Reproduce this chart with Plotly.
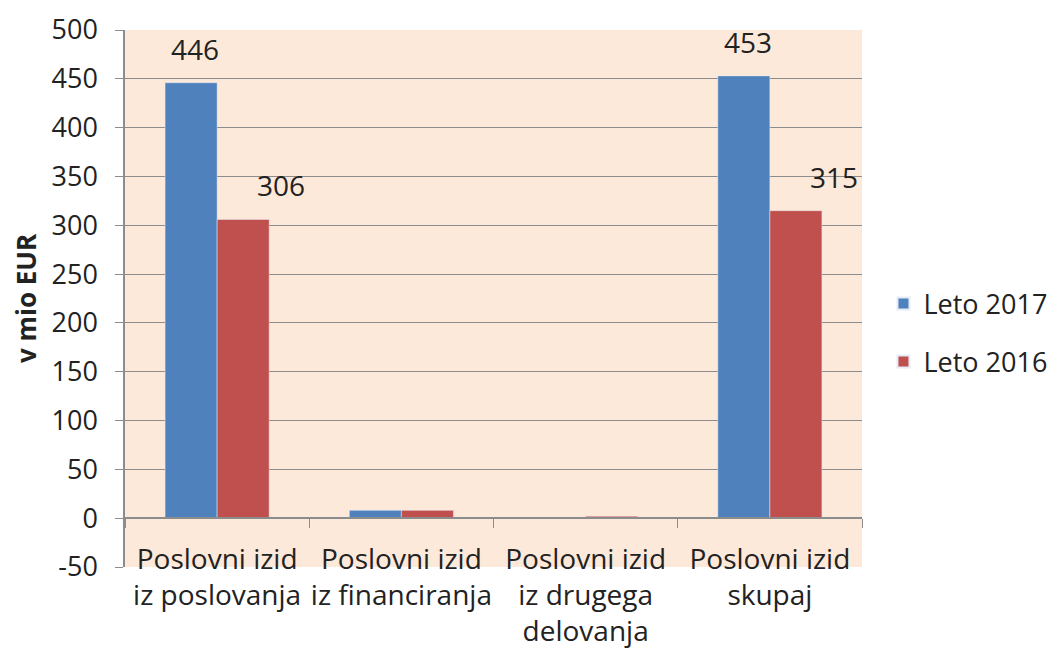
import plotly.graph_objects as go

categories = ["Poslovni izid<br>iz poslovanja", "Poslovni izid<br>iz financiranja",
              "Poslovni izid<br>iz drugega<br>delovanja", "Poslovni izid<br>skupaj"]
leto_2017 = [446, 8, 0.3, 453]
leto_2016 = [306, 8, 2, 315]
y_ticks = [-50, 0, 50, 100, 150, 200, 250, 300, 350, 400, 450, 500]
y_ticktext = [str(v) for v in y_ticks]  # plain hyphen for -50, as in the original

font_family = "Open Sans, Noto Sans, sans-serif"
grid_color = "#8c8c8c"

fig = go.Figure()
fig.add_trace(go.Bar(x=categories, y=leto_2017, name="Leto 2017", marker_color="#4F81BD",
                     legendgroup="a"))
fig.add_trace(go.Bar(x=categories, y=leto_2016, name="Leto 2016", marker_color="#C0504D",
                     legendgroup="b"))

# data labels only on the big bars, shifted like in the original
for vals, dx in [(leto_2017, -22), (leto_2016, 64)]:
    for cat, v in zip(categories, vals):
        if v > 50:
            fig.add_annotation(x=cat, y=v, text=str(v), showarrow=False,
                               xshift=dx, yshift=13, yanchor="bottom",
                               font=dict(size=28, color="#222", family=font_family))

ymin, ymax = -50, 500
# page body adds an 8px margin, so the figure is a bit smaller than the window
fig.update_layout(
    width=1055, height=640,
    margin=dict(l=117, r=201, t=22, b=81),
    paper_bgcolor="white",
    plot_bgcolor="#FDE9D9",
    barmode="group",
    bargap=0.435,
    bargroupgap=0,
    font=dict(family=font_family, size=27, color="#222"),
    legend=dict(xref="container", x=0.99, y=0.436, yanchor="middle", xanchor="right",
                font=dict(size=27), tracegroupgap=20, itemsizing="constant",
                bgcolor="rgba(0,0,0,0)"),
    xaxis=dict(
        anchor="free", position=(0 - ymin) / (ymax - ymin), automargin=False,
        showline=True, linecolor=grid_color, linewidth=1.5,
        ticks="outside", tickson="boundaries", ticklen=9, tickcolor=grid_color,
        tickfont=dict(size=28), tickangle=0, ticklabelstandoff=16, showgrid=False,
    ),
    yaxis=dict(
        range=[ymin, ymax], tickvals=y_ticks, ticktext=y_ticktext, automargin=False,
        showline=True, linecolor=grid_color, linewidth=1.5,
        ticks="outside", ticklen=8, tickcolor=grid_color, ticklabelstandoff=12,
        gridcolor=grid_color, gridwidth=1.2, zeroline=False,
        tickfont=dict(size=27),
        title=dict(text="<b>v mio EUR</b>", font=dict(size=26), standoff=14),
    ),
)

fig.write_html("out.html")
